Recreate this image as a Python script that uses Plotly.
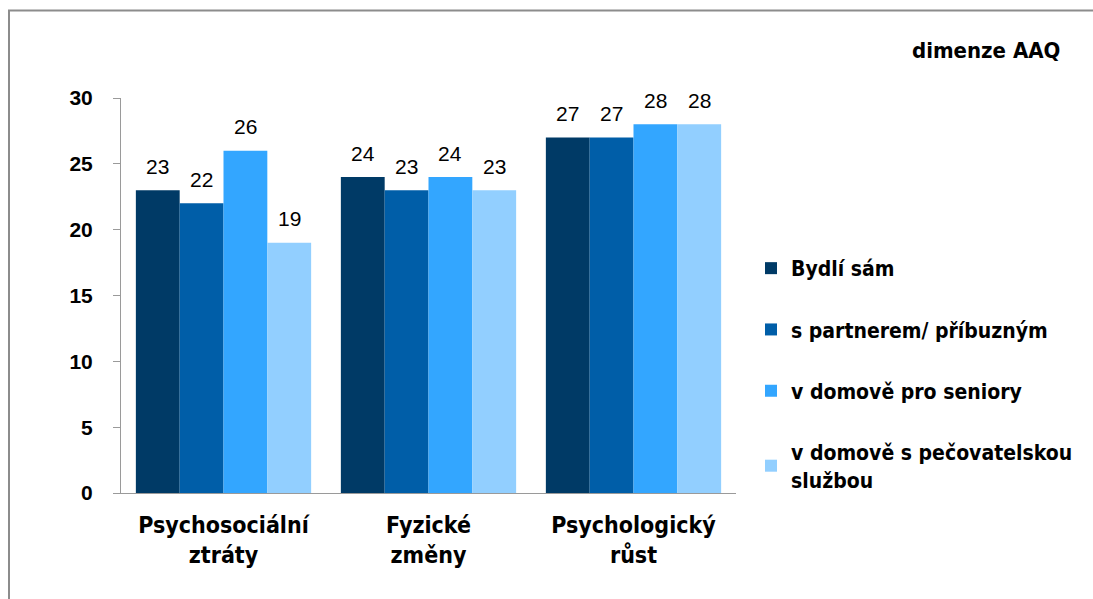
import plotly.graph_objects as go

# Categories (AAQ dimensions) and living-situation groups
categories = ["Psychosociální<br>ztráty", "Fyzické<br>změny", "Psychologický<br>růst"]
series_names = ["Bydlí sám", "s partnerem/ příbuzným", "v domově pro seniory",
                "v domově s pečovatelskou<br>službou"]
bydli_sam = [23, 24, 27]
s_partnerem = [22, 23, 27]
domov_seniori = [26, 24, 28]
domov_pecovatelska = [19, 23, 28]
y_ticks = [0, 5, 10, 15, 20, 25, 30]

series_values = [bydli_sam, s_partnerem, domov_seniori, domov_pecovatelska]
colors = ["#003a66", "#005ea8", "#33a6ff", "#92cfff"]

BARGAP = 0.145
x_pos = list(range(len(categories)))

fig = go.Figure()
for i, (name, vals, col) in enumerate(zip(series_names, series_values, colors)):
    fig.add_trace(go.Bar(
        x=x_pos, y=vals, name=f"<b>{name.replace('<br>', '</b><br><b>')}</b>",
        marker=dict(color=col, line=dict(width=0)),
        legendgroup=f"g{i}",
    ))

W, H = 1093, 599
L, R, T, B = 121, 357, 98, 106
pw, ph = W - L - R, H - T - B


def px_x(px):
    return (px - L) / pw


def px_y(py):
    return (H - B - py) / ph


# Value labels above each bar
bar_w = (1 - BARGAP) / len(series_values)
annotations = []
for i, vals in enumerate(series_values):
    off = (i - (len(series_values) - 1) / 2) * bar_w
    for xi, v in zip(x_pos, vals):
        annotations.append(dict(
            x=xi + off, y=v, xref="x", yref="y", text=str(v), showarrow=False,
            yanchor="middle", yshift=24,
            font=dict(family="Liberation Sans", size=21, color="#000000"),
        ))

annotations.append(dict(
    x=px_x(1062), y=px_y(50), xref="paper", yref="paper", xanchor="right", yanchor="middle",
    text="<b>dimenze AAQ</b>", showarrow=False,
    font=dict(family="DejaVu Sans Condensed", size=22, color="#000000"),
))

fig.update_layout(
    width=W, height=H,
    margin=dict(l=L, r=R, t=T, b=B),
    paper_bgcolor="#ffffff", plot_bgcolor="#ffffff",
    barmode="group", bargap=BARGAP, bargroupgap=0,
    showlegend=True,
    legend=dict(
        x=px_x(751), y=px_y(248), xanchor="left", yanchor="top",
        font=dict(family="DejaVu Sans Condensed", size=21, color="#000000"),
        tracegroupgap=31, bgcolor="rgba(0,0,0,0)", itemclick=False,
    ),
    xaxis=dict(
        tickvals=x_pos, ticktext=[f"<b>{c.replace('<br>', '</b><br><b>')}</b>" for c in categories],
        range=[-0.5, len(categories) - 0.5],
        showline=True, linecolor="#9a9a9a", linewidth=1, ticks="",
        showgrid=False, zeroline=False, ticklabelstandoff=11,
        tickfont=dict(family="DejaVu Sans Condensed", size=23, color="#000000"),
    ),
    yaxis=dict(
        range=[0, 30], tickvals=y_ticks, ticktext=[f"<b>{t}</b>" for t in y_ticks],
        showline=True, linecolor="#9a9a9a", linewidth=1,
        ticks="outside", ticklen=7, tickcolor="#9a9a9a",
        showgrid=False, zeroline=False, ticklabelstandoff=16,
        tickfont=dict(family="Liberation Sans", size=21, color="#000000"),
    ),
    annotations=annotations,
    shapes=[dict(
        type="rect", xref="paper", yref="paper",
        x0=px_x(9), x1=px_x(1200), y0=px_y(700), y1=px_y(10.5),
        line=dict(color="#8c8c8c", width=2), fillcolor="rgba(0,0,0,0)", layer="below",
    )],
)

fig.write_html("out.html")
